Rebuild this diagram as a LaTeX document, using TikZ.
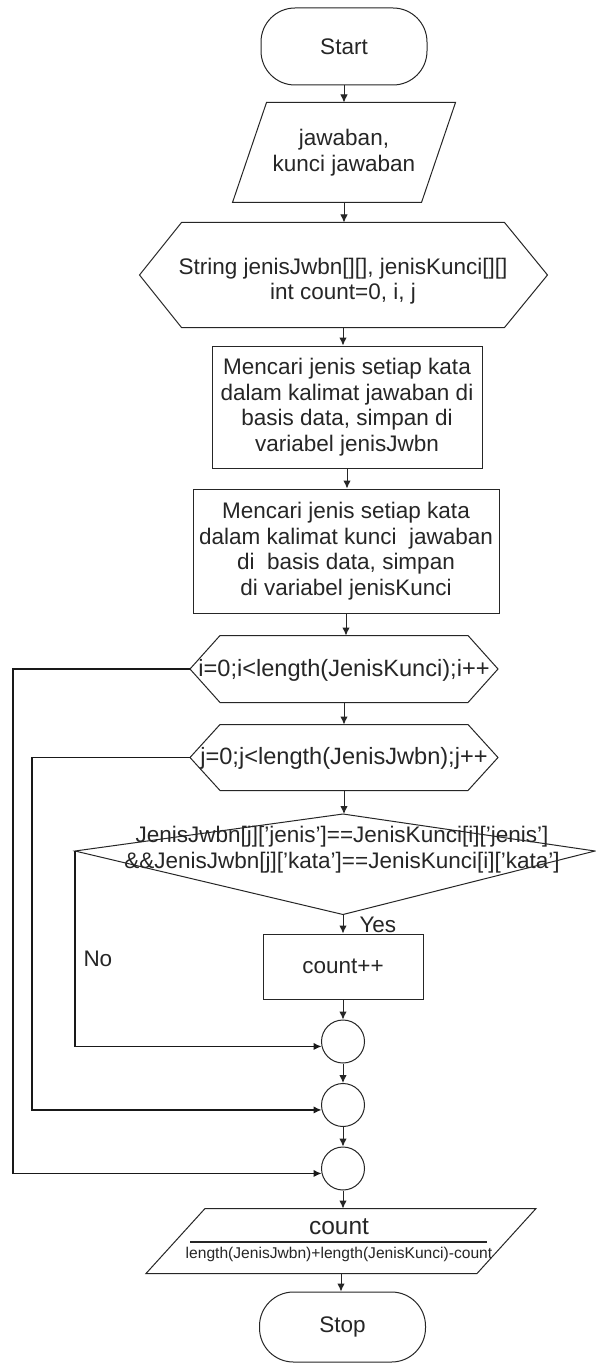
\documentclass[tikz,border=0pt]{standalone}
\usepackage{fontspec}
\setmainfont{Liberation Sans}
\usetikzlibrary{arrows.meta,calc}
\begin{document}
\begin{tikzpicture}[x=1pt,y=-1pt,
  line width=1pt, draw=black!85,
  txt/.style={font=\fontsize{22.5}{25.5}\selectfont, align=center, text=black!85, inner sep=0pt},
  bigtxt/.style={txt, font=\fontsize{23.6}{26}\selectfont},
  terminal/.style={draw, rounded corners=34pt, minimum width=166pt, minimum height=77pt, txt},
  procbox/.style={draw, txt},
  ghost/.style={txt, draw=none},
  arr/.style={-{Latex[length=8pt,width=7.5pt]}},
  loopline/.style={arr, line width=1.7pt, draw=black!90},
  conn/.style={draw, circle, minimum size=43pt, inner sep=0pt}
]
\useasboundingbox[fill=white] (0,0) rectangle (595,1364);

% Start
\node[terminal] (start) at (344,46.5) {Start};

% input parallelogram
\node[ghost, minimum width=188pt, minimum height=99pt] (in) at (344,152.5) {jawaban,\\kunci jawaban};
\draw ($(in.north west)+(17,0)$) -- ($(in.north east)+(17,0)$) -- ($(in.south east)+(-17,0)$) -- ($(in.south west)+(-17,0)$) -- cycle;

% declaration hexagon
\node[ghost, minimum width=322pt, minimum height=104pt] (decl) at (343,275) {};
\node[txt] (declText) at (343,281) {String jenisJwbn[][], jenisKunci[][]\\int count=0, i, j};
\draw (decl.north west) -- (decl.north east) -- ($(decl.east)+(43,0)$) -- (decl.south east) -- (decl.south west) -- ($(decl.west)+(-42,0)$) -- cycle;

% processes
\node[procbox, minimum width=270pt, minimum height=122pt] (r1) at (347,407) {Mencari jenis setiap kata\\dalam kalimat jawaban di\\basis data, simpan di\\variabel jenisJwbn};
\node[procbox, minimum width=306pt, minimum height=124pt] (r2) at (346,551) {Mencari jenis setiap kata\\dalam kalimat kunci\ \ jawaban\\di\ \ basis data, simpan\\di variabel jenisKunci};

% loop i hexagon
\node[ghost, minimum width=247pt, minimum height=66pt] (li) at (344,669) {};
\node[bigtxt] (liText) at (344,670) {i=0;i<length(JenisKunci);i++};
\draw (li.north west) -- (li.north east) -- ($(li.east)+(30,0)$) -- (li.south east) -- (li.south west) -- ($(li.west)+(-30,0)$) -- cycle;
\coordinate (liTip) at ($(li.west)+(-30,0)$);

% loop j hexagon
\node[ghost, minimum width=247pt, minimum height=65pt] (lj) at (344,757.5) {};
\node[bigtxt] (ljText) at (344,758) {j=0;j<length(JenisJwbn);j++};
\draw (lj.north west) -- (lj.north east) -- ($(lj.east)+(30,0)$) -- (lj.south east) -- (lj.south west) -- ($(lj.west)+(-30,0)$) -- cycle;
\coordinate (ljTip) at ($(lj.west)+(-30,0)$);

% decision diamond
\coordinate (dT) at (343,814);
\coordinate (dR) at (595,851);
\coordinate (dB) at (343,914.5);
\coordinate (dL) at (75,851);
\draw (dT) -- (dR) -- (dB) -- (dL) -- cycle;
\node[txt, font=\fontsize{22.5}{26}\selectfont] (cond) at (342,850) {JenisJwbn[j]['jenis']==JenisKunci[i]['jenis']\\\&\&JenisJwbn[j]['kata']==JenisKunci[i]['kata']};

% count++
\node[procbox, minimum width=160pt, minimum height=65pt] (inc) at (343,966.5) {count++};

% connectors
\node[conn] (c1) at (343,1041.5) {};
\node[conn] (c2) at (343,1105) {};
\node[conn] (c3) at (343,1168.5) {};

% output
\node[ghost, minimum width=330pt, minimum height=64pt] (out) at (341,1241) {};
\draw ($(out.north west)+(29.5,0)$) -- ($(out.north east)+(29.5,0)$) -- ($(out.south east)+(-29.5,0)$) -- ($(out.south west)+(-29.5,0)$) -- cycle;
\node[txt, font=\fontsize{24.5}{26}\selectfont] (num) at (339,1227) {count};
\draw[line width=1.6pt] (190,1242) -- (487,1242);
\node[txt, font=\fontsize{15.6}{17}\selectfont] (den) at (339,1254) {length(JenisJwbn)+length(JenisKunci)-count};

% Stop
\node[terminal, minimum height=70pt] (stop) at (342.5,1327) {Stop};

% labels
\node[txt, anchor=west] (yes) at (359,925) {Yes};
\node[txt, anchor=west] (no) at (83,959) {No};

% main flow arrows
\draw[arr] (start.south) -- (start.south |- in.north);
\draw[arr] (in.south) -- (in.south |- decl.north);
\draw[arr] (decl.south) -- (decl.south |- r1.north);
\draw[arr] (r1.south) -- (r1.south |- r2.north);
\draw[arr] (r2.south) -- (r2.south |- li.north);
\draw[arr] (li.south) -- (li.south |- lj.north);
\draw[arr] (lj.south) -- (lj.south |- dT);
\draw[arr] (dB) -- (dB |- inc.north);
\draw[arr] (inc.south) -- (inc.south |- c1.north);
\draw[arr] (c1.south) -- (c2.north);
\draw[arr] (c2.south) -- (c3.north);
\draw[arr] (c3.south) -- (c3.south |- out.north);
\draw[arr] (out.south) -- (out.south |- stop.north);

% loop-back lines
\draw[loopline] (liTip) -- ($(liTip)+(-177,0)$) |- (c3.193);
\draw[loopline] (ljTip) -- ($(ljTip)+(-158,0)$) |- (c2.193);
\draw[loopline] (dL) |- (c1.193);
\end{tikzpicture}
\end{document}
